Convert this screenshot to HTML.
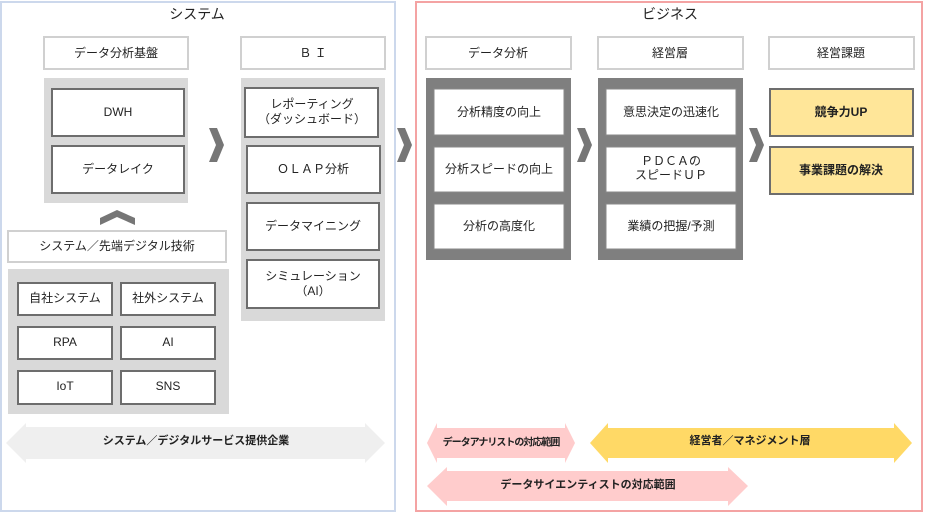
<!DOCTYPE html>
<html><head><meta charset="utf-8"><style>
body{margin:0;background:#fff;}
svg text{font-family:"Liberation Sans","Noto Sans CJK JP",sans-serif;font-size:12px;fill:#222;text-anchor:middle;dominant-baseline:central;}
.b{font-weight:bold;}
</style></head><body>
<svg width="925" height="513" viewBox="0 0 925 513" xmlns="http://www.w3.org/2000/svg">
<rect x="1" y="2" width="394" height="509" fill="#fff" stroke="#ccd8ec" stroke-width="2"/>
<rect x="416" y="2" width="506" height="509" fill="#fff" stroke="#f4a3a3" stroke-width="2"/>
<text x="197" y="14" style="font-size:14px">システム</text>
<text x="670" y="14" style="font-size:14px">ビジネス</text>

<g fill="#fff" stroke="#d0d0d0" stroke-width="2">
<rect x="44" y="37" width="144" height="32"/>
<rect x="241" y="37" width="144" height="32"/>
<rect x="426" y="37" width="145" height="32"/>
<rect x="598" y="37" width="145" height="32"/>
<rect x="769" y="37" width="145" height="32"/>
<rect x="8" y="231" width="218" height="31"/>
</g>
<text x="116" y="53">データ分析基盤</text>
<text x="313" y="53">Ｂ Ｉ</text>
<text x="498" y="53">データ分析</text>
<text x="670" y="53">経営層</text>
<text x="841" y="53">経営課題</text>
<text x="117" y="246">システム／先端デジタル技術</text>

<rect x="44" y="78" width="144" height="125" fill="#d9d9d9"/>
<rect x="8" y="269" width="221" height="145" fill="#d9d9d9"/>
<rect x="241" y="78" width="144" height="243" fill="#d9d9d9"/>
<rect x="426" y="78" width="145" height="182" fill="#7f7f7f"/>
<rect x="598" y="78" width="145" height="182" fill="#7f7f7f"/>

<g fill="#fff" stroke="#6d6d6d" stroke-width="2">
<rect x="52" y="89" width="132" height="47"/>
<rect x="52" y="146" width="132" height="47"/>
<rect x="18" y="283" width="94" height="32"/>
<rect x="121" y="283" width="94" height="32"/>
<rect x="18" y="327" width="94" height="32"/>
<rect x="121" y="327" width="94" height="32"/>
<rect x="18" y="371" width="94" height="33"/>
<rect x="121" y="371" width="94" height="33"/>
<rect x="245" y="88" width="133" height="49"/>
<rect x="247" y="146" width="133" height="47"/>
<rect x="247" y="203" width="132" height="47"/>
<rect x="247" y="260" width="132" height="48"/>
</g>
<g fill="#fff" stroke="#8a8a8a" stroke-width="1">
<rect x="434" y="89" width="130" height="46"/>
<rect x="434" y="147" width="130" height="45"/>
<rect x="434" y="204" width="130" height="45"/>
<rect x="606" y="89" width="130" height="46"/>
<rect x="606" y="147" width="130" height="45"/>
<rect x="606" y="204" width="130" height="45"/>
</g>
<g fill="#ffe699" stroke="#6d6d6d" stroke-width="2">
<rect x="770" y="89" width="143" height="47"/>
<rect x="770" y="147" width="143" height="47"/>
</g>

<text x="118" y="112">DWH</text>
<text x="118" y="169">データレイク</text>
<text x="65" y="298">自社システム</text>
<text x="168" y="298">社外システム</text>
<text x="65" y="342">RPA</text>
<text x="168" y="342">AI</text>
<text x="65" y="386">IoT</text>
<text x="168" y="386">SNS</text>
<text x="312" y="104">レポーティング</text>
<text x="312" y="119">（ダッシュボード）</text>
<text x="313" y="169">ＯＬＡＰ分析</text>
<text x="313" y="226">データマイニング</text>
<text x="313" y="276">シミュレーション</text>
<text x="313" y="291">（AI）</text>
<text x="499" y="112">分析精度の向上</text>
<text x="499" y="169">分析スピードの向上</text>
<text x="499" y="226">分析の高度化</text>
<text x="671" y="112">意思決定の迅速化</text>
<text x="671" y="161">ＰＤＣＡの</text>
<text x="671" y="175">スピードＵＰ</text>
<text x="671" y="226">業績の把握/予測</text>
<text x="841" y="112" class="b">競争力UP</text>
<text x="841" y="170" class="b">事業課題の解決</text>

<g fill="#767676">
<polygon points="209,128 217,128 224,145 217,162 209,162 216,145"/>
<polygon points="397,128 405,128 412,145 405,162 397,162 404,145"/>
<polygon points="577,128 585,128 592,145 585,162 577,162 584,145"/>
<polygon points="749,128 757,128 764,145 757,162 749,162 756,145"/>
<polygon points="100,218 117,210 135,218 135,225 117,217 100,225"/>
</g>

<polygon points="6,443 26,423 26,427 365,427 365,423 385,443 365,463 365,459 26,459 26,463" fill="#efefef"/>
<text x="196" y="441" class="b" style="font-size:11px">システム／デジタルサービス提供企業</text>
<polygon points="427,443 437,423 437,428 565,428 565,423 575,443 565,463 565,458 437,458 437,463" fill="#ffcccc"/>
<text x="501" y="443" class="b" style="font-size:10px;letter-spacing:-1px">データアナリストの対応範囲</text>
<polygon points="590,443 608,423 608,428 894,428 894,423 912,443 894,463 894,458 608,458 608,463" fill="#ffd966"/>
<text x="750" y="441" class="b" style="font-size:11px">経営者／マネジメント層</text>
<polygon points="427,486 447,467 447,471 728,471 728,467 748,486 728,506 728,501 447,501 447,506" fill="#ffcccc"/>
<text x="588" y="485" class="b" style="font-size:11px">データサイエンティストの対応範囲</text>
</svg>
</body></html>
